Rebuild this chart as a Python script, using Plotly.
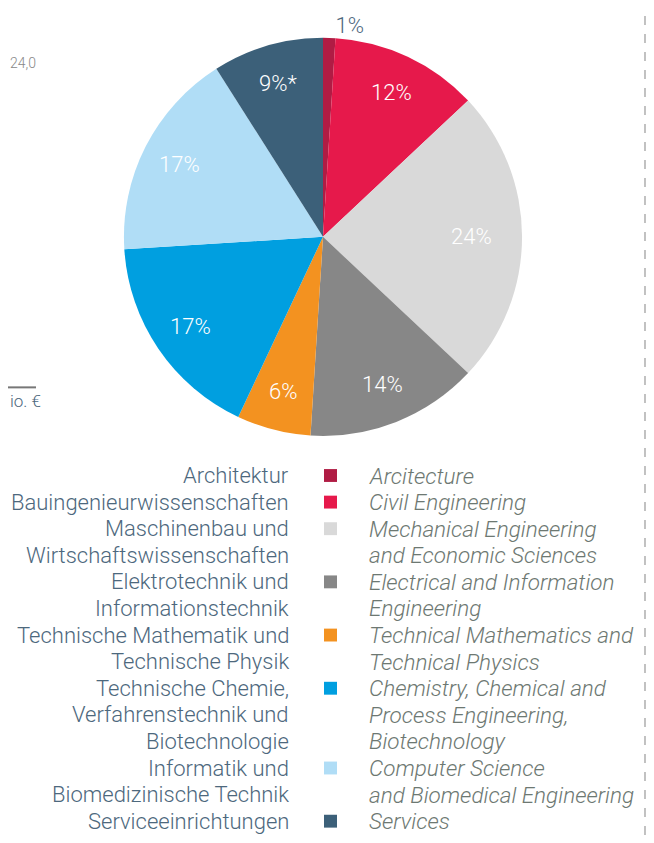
import math
import plotly.graph_objects as go

# ---- data ----
categories_de = [
    ["Architektur"],
    ["Bauingenieurwissenschaften"],
    ["Maschinenbau und", "Wirtschaftswissenschaften"],
    ["Elektrotechnik und", "Informationstechnik"],
    ["Technische Mathematik und", "Technische Physik"],
    ["Technische Chemie,", "Verfahrenstechnik und", "Biotechnologie"],
    ["Informatik und", "Biomedizinische Technik"],
    ["Serviceeinrichtungen"],
]
categories_en = [
    ["Arcitecture"],
    ["Civil Engineering"],
    ["Mechanical Engineering", "and Economic Sciences"],
    ["Electrical and Information", "Engineering"],
    ["Technical Mathematics and", "Technical Physics"],
    ["Chemistry, Chemical and", "Process Engineering,", "Biotechnology"],
    ["Computer Science", "and Biomedical Engineering"],
    ["Services"],
]
shares = [1, 12, 24, 14, 6, 17, 17, 9]
share_labels = ["1%", "12%", "24%", "14%", "6%", "17%", "17%", "9%*"]
colors = ["#b01c44", "#e6194b", "#d9d9d9", "#878787", "#f39220", "#009fe0", "#b0ddf6", "#3c6079"]

# page body has an 8px margin on every side -> figure is drawn offset by (8, 8)
OFF = 8
W, H = 654 - 2 * OFF, 843 - 2 * OFF
FONT = "Roboto"
DE_COLOR = "#4d687d"
EN_COLOR = "#6d7872"

def px(x):
    return (x - OFF) / W

def py(y):
    return 1 - (y - OFF) / H

# pie geometry (reference pixels)
CX, CY, R = 323, 231, 201

fig = go.Figure()

textpos = ["outside" if v < 3 else "none" for v in shares]

fig.add_trace(go.Pie(
    labels=[" ".join(c) for c in categories_en],
    values=shares,
    text=share_labels,
    texttemplate="%{text}",
    textposition=textpos,
    textfont=dict(family=FONT, size=22, color=DE_COLOR, weight=300),
    marker=dict(colors=colors, line=dict(width=0)),
    sort=False,
    direction="clockwise",
    rotation=0,
    showlegend=False,
    hoverinfo="label+percent",
    domain=dict(x=[px(CX - R), px(CX + R)], y=[py(CY + R), py(CY - R)]),
))

annotations = []
shapes = []

# inside slice labels placed along each slice's bisector
total = sum(shares)
cum = 0
for v, lab in zip(shares, share_labels):
    mid = (cum + v / 2) / total * 2 * math.pi
    cum += v
    if v < 3:
        continue
    rf = 0.8 if v < 20 else 0.74
    x = CX + rf * R * math.sin(mid)
    y = CY - rf * R * math.cos(mid)
    annotations.append(dict(
        x=px(x), y=py(y), xref="paper", yref="paper", text=lab, showarrow=False,
        xanchor="center", yanchor="middle",
        font=dict(family=FONT, size=22, color="white", weight=300),
    ))

row0 = 472
row_h = 26.85
row = 0
for de_lines, en_lines, col in zip(categories_de, categories_en, colors):
    for i, line in enumerate(de_lines):
        annotations.append(dict(
            x=px(291), y=py(row0 + (row + i) * row_h), xref="paper", yref="paper",
            text=line, showarrow=False, xanchor="right", yanchor="middle",
            font=dict(family=FONT, size=22, color=DE_COLOR, weight=300),
        ))
    for i, line in enumerate(en_lines):
        annotations.append(dict(
            x=px(367), y=py(row0 + (row + i) * row_h), xref="paper", yref="paper",
            text="<i>" + line + "</i>", showarrow=False, xanchor="left", yanchor="middle",
            font=dict(family=FONT, size=22.5, color=EN_COLOR, weight=300),
        ))
    yc = row0 + row * row_h
    shapes.append(dict(
        type="rect", xref="paper", yref="paper",
        x0=px(324), x1=px(337), y0=py(yc + 6.5), y1=py(yc - 6.5),
        fillcolor=col, line=dict(width=0),
    ))
    row += len(de_lines)

# fragments of the neighbouring panel
annotations.append(dict(
    x=px(8), y=py(55), xref="paper", yref="paper", text="24,0", showarrow=False,
    xanchor="left", yanchor="middle", font=dict(family=FONT, size=14, color="#888888", weight=300),
))
annotations.append(dict(
    x=px(8), y=py(397), xref="paper", yref="paper", text="io. €", showarrow=False,
    xanchor="left", yanchor="middle", font=dict(family=FONT, size=17, color=DE_COLOR, weight=300),
))
shapes.append(dict(type="line", xref="paper", yref="paper", x0=0, x1=px(36), y0=py(383), y1=py(383),
                   line=dict(color="#777777", width=2)))
shapes.append(dict(type="line", xref="paper", yref="paper", x0=px(645), x1=px(645), y0=0, y1=1,
                   line=dict(color="#999999", width=1.2, dash="dash")))

fig.update_layout(
    width=W, height=H,
    margin=dict(l=0, r=0, t=0, b=0),
    paper_bgcolor="white", plot_bgcolor="white",
    annotations=annotations, shapes=shapes,
    font=dict(family=FONT),
)

fig.write_html("out.html")
